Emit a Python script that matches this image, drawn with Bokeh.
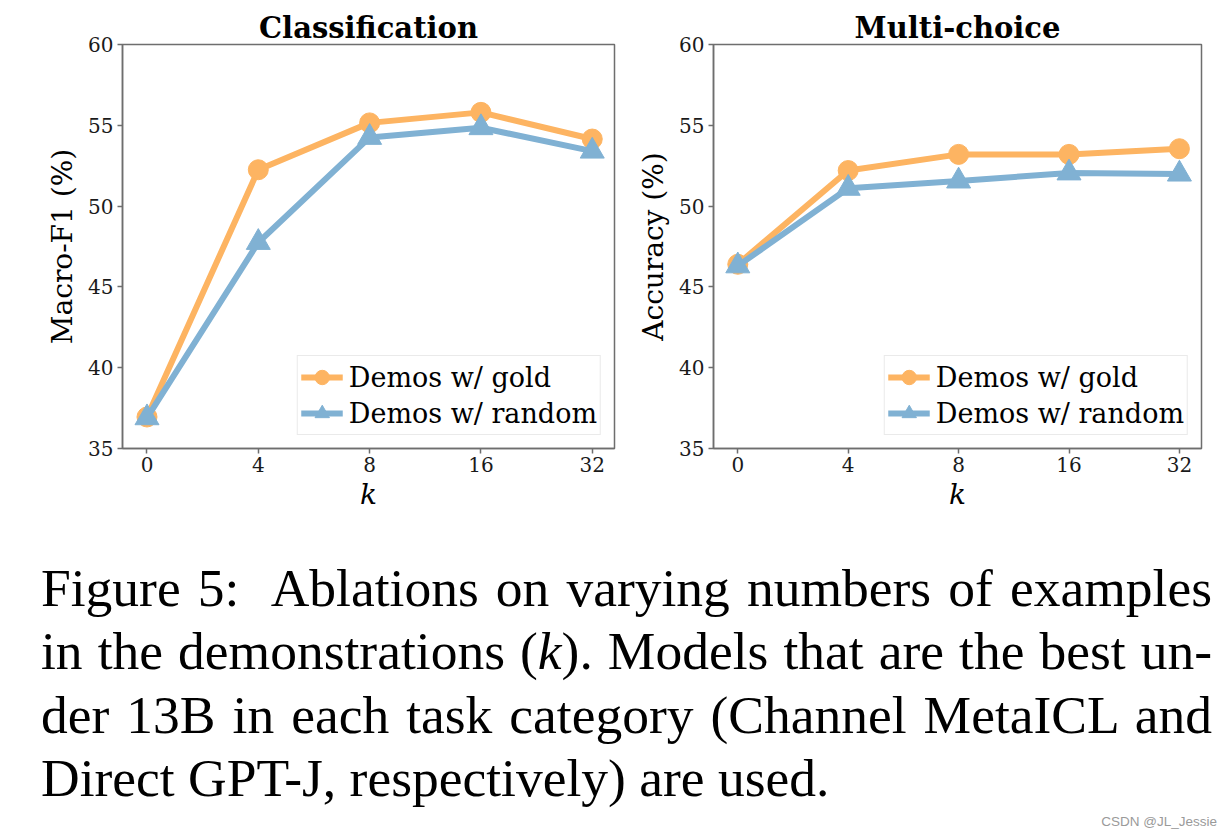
from bokeh.plotting import figure
from bokeh.models import Range1d, FixedTicker, Div
from bokeh.layouts import row, column
from bokeh.embed import file_html
from bokeh.resources import INLINE

# ---- data ----
k_labels = ["0", "4", "8", "16", "32"]
y_ticks = [35, 40, 45, 50, 55, 60]

cls_gold = [36.95, 52.25, 55.15, 55.8, 54.15]
cls_random = [36.9, 47.75, 54.25, 54.85, 53.4]

mc_gold = [46.4, 52.2, 53.2, 53.2, 53.55]
mc_random = [46.3, 51.1, 51.55, 52.05, 51.98]

GOLD = "#FDB462"
BLUE = "#80B1D3"
SPINE = "#6e6e6e"
SERIF = "DejaVu Serif"


def make_fig(title, ylabel, gold, rand, frame_w, left_b):
    xs = list(range(len(k_labels)))
    p = figure(frame_width=frame_w, frame_height=404,
               x_range=Range1d(-0.22, len(k_labels) - 1 + 0.2),
               y_range=Range1d(y_ticks[0], y_ticks[-1]),
               output_backend="svg", toolbar_location=None,
               min_border_left=left_b, min_border_right=18,
               min_border_top=44, min_border_bottom=70,
               background_fill_color="white", border_fill_color="white")
    p.title.text = title
    p.title.text_font = SERIF
    p.title.text_font_style = "bold"
    p.title.text_font_size = "29px"
    p.title.align = "center"
    p.title.standoff = 0
    p.title.text_color = "#000000"

    p.xgrid.visible = False
    p.ygrid.visible = False
    p.outline_line_color = SPINE
    p.outline_line_width = 1.5

    for ax in (p.xaxis[0], p.yaxis[0]):
        ax.axis_line_color = SPINE
        ax.axis_line_width = 1.5
        ax.major_tick_line_color = SPINE
        ax.major_tick_line_width = 1.5
        ax.major_tick_out = 5
        ax.major_tick_in = 0
        ax.minor_tick_line_color = None
        ax.major_label_text_font = SERIF
        ax.major_label_text_font_size = "20px"
        ax.major_label_text_color = "#1a1a1a"
        ax.axis_label_text_font = SERIF
        ax.axis_label_text_font_size = "28px"
        ax.axis_label_text_color = "#000000"

    p.xaxis.ticker = FixedTicker(ticks=xs)
    p.xaxis.major_label_overrides = {i: lab for i, lab in enumerate(k_labels)}
    p.xaxis.axis_label = "k"
    p.xaxis.axis_label_text_font_style = "italic"
    p.xaxis.major_label_standoff = 3
    p.xaxis.axis_label_standoff = 3

    p.yaxis.ticker = FixedTicker(ticks=y_ticks)
    p.yaxis.axis_label = ylabel
    p.yaxis.axis_label_text_font_style = "normal"
    p.yaxis.major_label_standoff = 4
    p.yaxis.axis_label_standoff = 6

    p.line(xs, gold, line_color=GOLD, line_width=6, legend_label="Demos w/ gold")
    p.scatter(xs, gold, marker="circle", size=20, fill_color=GOLD, line_color=GOLD,
              legend_label="Demos w/ gold")
    p.line(xs, rand, line_color=BLUE, line_width=6, legend_label="Demos w/ random")
    p.scatter(xs, rand, marker="triangle", size=24, fill_color=BLUE, line_color=BLUE,
              legend_label="Demos w/ random")

    lg = p.legend[0]
    lg.location = "bottom_right"
    lg.margin = 13
    lg.padding = 3
    lg.spacing = 0
    lg.glyph_width = 42
    lg.glyph_height = 36
    lg.label_height = 27
    lg.label_standoff = 6
    lg.label_text_font = SERIF
    lg.label_text_font_size = "27px"
    lg.label_text_color = "#000000"
    lg.border_line_color = "#d6d6d6"
    lg.border_line_width = 1
    lg.background_fill_color = "white"
    lg.background_fill_alpha = 0.85
    return p


p1 = make_fig("Classification", "Macro-F1 (%)", cls_gold, cls_random, 492, 122)
p2 = make_fig("Multi-choice", "Accuracy (%)", mc_gold, mc_random, 488, 81)

line_style = ("text-align:justify; text-align-last:justify; white-space:nowrap;")
caption_html = f"""
<div style="position:relative; width:1219px; height:316px; background:white;">
  <div style="position:absolute; left:36px; top:34px; width:1171px;
              font-family:'Liberation Serif','Times New Roman',serif; font-size:53.5px;
              line-height:63.3px; color:#000;">
    <div style="{line_style}">Figure 5:&nbsp; Ablations on varying numbers of examples</div>
    <div style="{line_style}">in the demonstrations (<i>k</i>). Models that are the best un-</div>
    <div style="{line_style}">der 13B in each task category (Channel MetaICL and</div>
    <div style="text-align:left; white-space:nowrap;">Direct GPT-J, respectively) are used.</div>
  </div>
  <div style="position:absolute; right:7px; top:291px; font-family:'Liberation Sans',Arial,sans-serif;
              font-size:13.5px; line-height:16px; color:#9a9a9a; white-space:nowrap;">CSDN @JL_Jessie</div>
</div>
"""
caption = Div(text=caption_html, width=1219, height=316)

layout = column(row(p1, p2, spacing=0), caption, spacing=0)

with open("out.html", "w") as f:
    f.write(file_html(layout, INLINE))
